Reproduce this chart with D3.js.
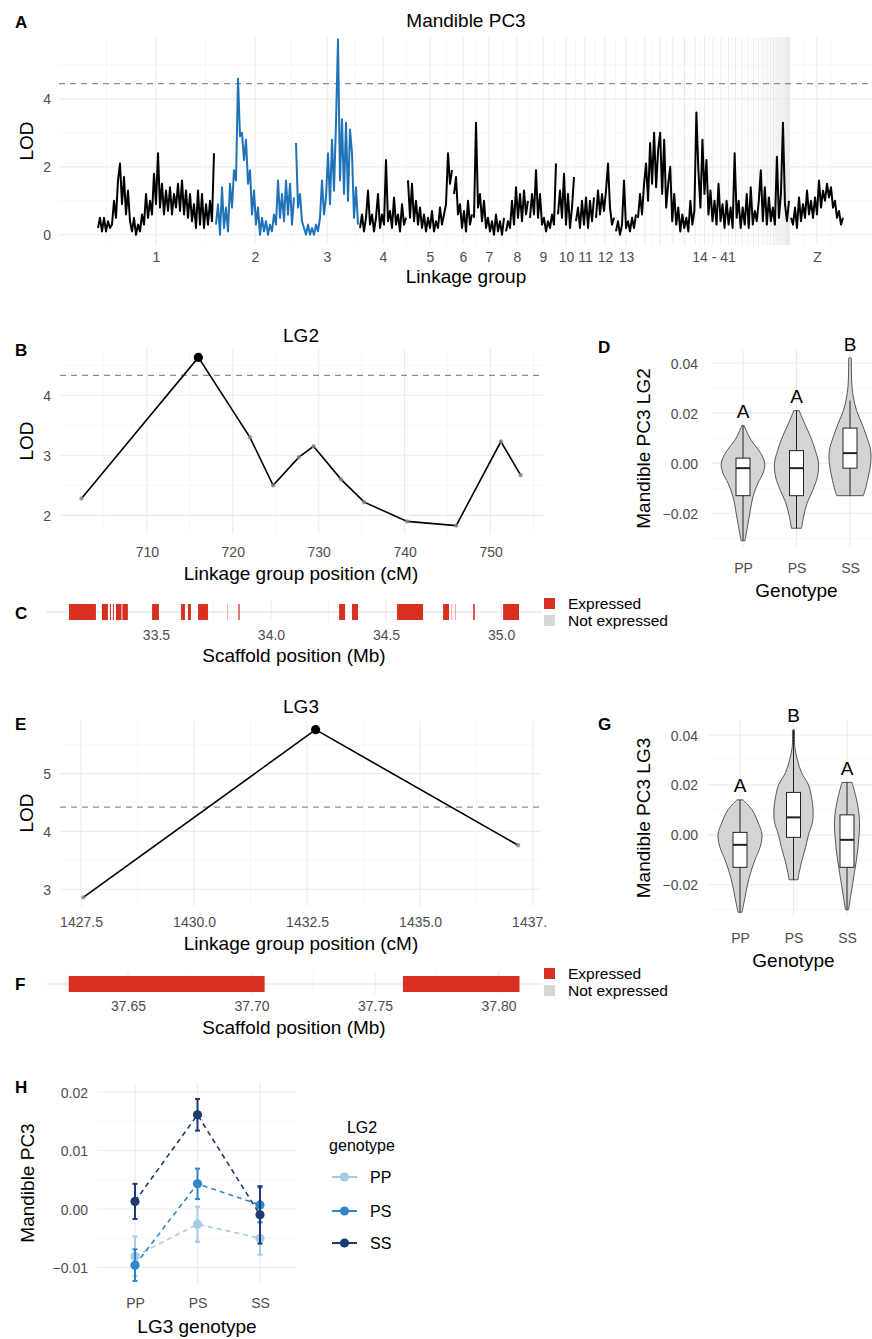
<!DOCTYPE html>
<html>
<head>
<meta charset="utf-8">
<script src="https://cdn.jsdelivr.net/npm/d3@7"></script>
<style>
body { margin: 0; background: #fff; }
svg { font-family: "Liberation Sans", Arial, Helvetica, sans-serif; }
</style>
</head>
<body>
<div id="fig"></div>
<script>
// ---------------- data ----------------
// panel A: linkage groups (lengths in map units) and genome scan LOD values
var chromNames = ["1","2","3","4","5","6","7","8","9","10","11","12","13",
  "14","15","16","17","18","19","20","21","22","23","24","25","26","27","28","29","30",
  "31","32","33","34","35","36","37","38","39","40","41","Z"];
var chromLen = [118,80,64,48,46,20,32,24,28,18,20,20,22,
  16,14,12,11,10,9,8,8,7,7,6,6,5,5,4,4,3,3,2,2,2,2,1.5,1.5,1,1,1,1,54];
var blueChroms = ["2","3"];
var lodLG1 = [0.2,0.5,0.1,0.5,0.1,0.4,0.2, 0.3,1.0,0.5,1.6, 2.1, 0.9,1.7,0.6,1.3,0.4,
  0.1,0.5,0.0,0.3,0.1, 0.6,0.3,1.2,0.5,1.0, 0.6,1.8,0.9,2.4,0.8,
  1.5,0.6,1.3,0.7,1.4,0.6,1.2,0.8,1.5,0.7, 1.6,0.6,1.3,0.5,1.2,0.4,0.9,
  0.2,1.3,0.3,1.2,0.2,0.9,0.3,1.0,0.4,2.4];
var lodLG2 = [0.3,0.9,0.0,1.4,0.2,0.8,0.1,1.5, 0.8,1.9,1.6, 4.6, 2.9,3.0,2.2, 2.8,1.5,1.9,
  0.6,1.3,0.3,0.8, 0.0,0.5,0.1,0.4,0.0,0.3,0.1,0.6, 0.3,1.6,0.5,1.2,0.4,1.6,0.6,1.5,0.3,1.1];
var lodLG3 = [2.7, 0.8,1.2,0.4, 0.2,0.0,0.3,0.0,0.2,0.0,0.3,0.1,0.5,
  1.6,0.6,1.1,2.4,0.9,2.8,1.3,3.3, 5.75, 1.6,3.4,1.2,3.3,1.0,3.1, 2.4,0.5,1.4,0.3];
var lodLG4 = [0.2,0.6,0.1,0.5,1.3,0.3,0.6,0.1,0.5,1.2,0.2,0.6,0.3,2.2,0.4,0.7,0.2,1.1,0.3,0.6,0.1,0.9,0.3,0.5];
var lodLG5 = [1.6,0.5,1.5,0.4,1.0,0.3,0.8,0.2,0.6,0.1,0.5,0.2,0.7,0.1,0.4,0.2,0.8,0.3,0.6,0.9,2.4,1.5,1.9];
var lodLG6 = [1.2,1.7,0.6,0.9,0.2,0.7,0.1,1.0,0.3,0.6];
var lodLG7 = [0.5,3.3,0.8,1.2,0.4,1.0,0.2,0.5,0.1,0.4,0.0,0.6,0.1,0.4,0.0,0.5];
var lodLG8 = [0.1,0.4,0.2,1.0,0.3,1.4,0.5,1.2,0.4,1.3,0.6,1.0];
var lodLG9 = [0.5,1.2,0.6,1.9,0.5,1.2,0.3,0.5,0.1,0.4,0.2,0.6,0.3,2.1];
var lodLG10 = [0.6,1.3,0.5,1.8,0.3,1.2,0.2,0.8,1.7];
var lodLG11 = [0.4,0.8,0.2,1.0,0.3,1.1,0.2,1.0,0.4,1.1];
var lodLG12 = [0.5,1.3,0.6,1.2,0.7,1.3,2.1,0.8,0.3,0.5];
var lodLG13 = [0.1,0.4,0.0,0.3,1.6,0.2,0.4,0.1,0.5,0.2,0.6];
var lodSmall = [0.5,1.2,0.6,1.5, 2.1, 1.0,2.7, 1.5,3.0,1.4,2.5,3.0,1.2,2.8,
  0.8,1.5,2.0,0.4,1.2,0.3,0.8, 0.1,0.6,0.2,0.5,0.1,1.0,0.3,0.7, 3.6,
  1.9,0.8,2.8,1.2,2.2, 0.6,1.3,0.4,1.0,0.3,1.5,0.4,0.9,0.2,1.0,0.3,0.8,0.2, 2.4,
  0.5,1.0,0.2,0.8,0.3,1.2,0.2,1.4,0.3,0.7,0.4,1.0, 1.9,
  0.4,1.4,0.3,1.1,0.4,0.8,0.3,2.3,0.5,1.2,3.3,0.9,0.4,1.0];
var lodZ = [0.5,0.3,0.8,0.2,1.1,0.4,0.9, 0.5,1.3,0.6,1.0,0.5,1.1,0.6,
  1.6,0.8,1.3,1.0,1.5,1.1,1.4, 0.8,1.0,0.5,0.7,0.3,0.5];
var thrA = 4.45;

// panel B: LG2 fine map
var posLG2 = [702.4,716.0,722.0,724.7,727.7,729.4,732.6,735.3,740.3,746.0,751.2,753.5];
var lodFineLG2 = [2.28,4.63,3.30,2.50,2.97,3.15,2.60,2.22,1.90,1.83,3.23,2.67];
var thrB = 4.33;
// panel C: genes on scaffold (Mb), opacity of each
var geneStartC = [33.122,33.265,33.300,33.313,33.326,33.354,33.483,33.609,33.639,33.683,33.809,33.857,34.296,34.352,34.548,34.748,34.783,34.800,34.878,35.009];
var geneEndC   = [33.239,33.291,33.304,33.317,33.350,33.378,33.513,33.626,33.652,33.726,33.811,33.865,34.322,34.378,34.661,34.774,34.787,34.804,34.887,35.078];
var geneAlphaC = [1,1,1,1,1,1,1,1,1,1,0.35,0.7,1,1,1,1,0.4,0.4,0.8,1];
// panel E: LG3 fine map
var posLG3 = [1427.55,1432.69,1437.17];
var lodFineLG3 = [2.86,5.76,3.76];
var thrE = 4.42;
// panel F
var geneStartF = [37.626,37.7613];
var geneEndF = [37.7053,37.8085];

// panels D and G: violins [value, relative density], boxes [lo, q1, median, q3, hi]
var genos = ["PP","PS","SS"];
var violinD_PP = [[0.015,0.05],[0.013,0.15],[0.009,0.38],[0.005,0.73],[0.0,0.99],[-0.004,0.91],[-0.008,0.68],[-0.0135,0.45],[-0.019,0.33],[-0.024,0.23],[-0.0295,0.12],[-0.031,0.09]];
var violinD_PS = [[0.021,0.12],[0.016,0.36],[0.0105,0.64],[0.005,0.86],[0.0,1.0],[-0.0055,0.95],[-0.011,0.73],[-0.016,0.48],[-0.0215,0.32],[-0.026,0.23]];
var violinD_SS = [[0.042,0.06],[0.032,0.08],[0.0265,0.15],[0.021,0.30],[0.016,0.53],[0.0105,0.76],[0.005,0.94],[0.0,0.94],[-0.0055,0.83],[-0.011,0.68],[-0.013,0.6]];
var boxD_PP = [-0.031,-0.013,-0.002,0.002,0.015];
var boxD_PS = [-0.026,-0.013,-0.002,0.005,0.021];
var boxD_SS = [-0.013,-0.002,0.004,0.014,0.025];
var lettersD = ["A","A","B"];
var violinG_PP = [[0.014,0.14],[0.01,0.55],[0.005,0.82],[0.0,1.0],[-0.005,0.91],[-0.01,0.68],[-0.015,0.49],[-0.02,0.34],[-0.025,0.23],[-0.031,0.09]];
var violinG_PS = [[0.042,0.05],[0.035,0.06],[0.03,0.18],[0.025,0.36],[0.02,0.68],[0.015,0.82],[0.01,0.89],[0.005,0.86],[0.0,0.68],[-0.005,0.55],[-0.01,0.39],[-0.015,0.26],[-0.018,0.2]];
var violinG_SS = [[0.021,0.23],[0.015,0.41],[0.01,0.52],[0.005,0.57],[0.0,0.55],[-0.005,0.5],[-0.01,0.43],[-0.015,0.34],[-0.02,0.25],[-0.025,0.16],[-0.03,0.07]];
var boxG_PP = [-0.031,-0.013,-0.004,0.001,0.014];
var boxG_PS = [-0.018,-0.001,0.007,0.017,0.042];
var boxG_SS = [-0.030,-0.013,-0.002,0.008,0.021];
var lettersG = ["A","B","A"];

// panel H: means and standard errors by LG3 genotype for each LG2 genotype
var hMeanPP = [-0.0081,-0.0026,-0.0050];
var hSePP   = [0.0034,0.0030,0.0028];
var hMeanPS = [-0.0096,0.0043,0.0007];
var hSePS   = [0.0027,0.0026,0.0030];
var hMeanSS = [0.0013,0.0161,-0.0010];
var hSeSS   = [0.0030,0.0027,0.0049];

// ---------------- drawing ----------------
var W = 872, H = 1339;
var svg = d3.select("#fig").append("svg").attr("width", W).attr("height", H);
var red = "#d7301f", grey = "#d6d6d6", gridCol = "#ebebeb", gridMin = "#f3f3f3";
var intFmt = d3.format("d");

function minorBreaks(b){
  var m = [b[0] - (b[1]-b[0])/2];
  for (var i = 0; i < b.length-1; i++) m.push((b[i]+b[i+1])/2);
  m.push(b[b.length-1] + (b[b.length-1]-b[b.length-2])/2);
  return m;
}
function hGrid(g, y, vals, x0, x1, col, w){
  g.selectAll(null).data(vals).enter().append("line")
    .attr("x1", x0).attr("x2", x1).attr("y1", d => y(d)).attr("y2", d => y(d))
    .attr("stroke", col).attr("stroke-width", w);
}
function vGrid(g, x, vals, y0, y1, col, w){
  g.selectAll(null).data(vals).enter().append("line")
    .attr("y1", y0).attr("y2", y1).attr("x1", d => x(d)).attr("x2", d => x(d))
    .attr("stroke", col).attr("stroke-width", w);
}
function styleAxis(g){
  g.attr("font-size", 14).attr("font-family", null);
  g.select(".domain").remove();
  g.selectAll("line").remove();
  g.selectAll("text").attr("fill", "#4d4d4d");
}
function bottomAxis(g, x, yBase, vals, fmt){
  var ax = d3.axisBottom(x).tickValues(vals).tickSize(0);
  if (fmt) ax.tickFormat(fmt);
  var a = g.append("g").attr("transform", "translate(0," + yBase + ")").call(ax);
  styleAxis(a);
  a.selectAll("text").attr("y", 0).attr("dy", 0);
  return a;
}
function leftAxis(g, y, xRight, vals, fmt){
  var ax = d3.axisLeft(y).tickValues(vals).tickSize(0);
  if (fmt) ax.tickFormat(fmt);
  var a = g.append("g").attr("transform", "translate(" + xRight + ",0)").call(ax);
  styleAxis(a);
  a.selectAll("text").attr("x", 0).attr("dy", "0.36em");
  return a;
}
function label(g, x, y, s, size, opt){
  opt = opt || {};
  var t = g.append("text").attr("x", x).attr("y", y).text(s)
    .attr("font-size", size).attr("fill", opt.fill || "#000")
    .attr("text-anchor", opt.anchor || "middle");
  if (opt.bold) t.attr("font-weight", "bold");
  return t;
}
function vLabel(g, x, y, s, size){
  g.append("text").attr("transform", "translate(" + x + "," + y + ") rotate(-90)")
    .attr("text-anchor", "middle").attr("font-size", size).text(s);
}

// ===== Panel A: genome scan =====
var gA = svg.append("g");
var chromStart = [], acc = 0;
chromLen.forEach(function(l){ chromStart.push(acc); acc += l; });
var chromMid = chromLen.map(function(l, i){ return chromStart[i] + l/2; });
var xA = d3.scaleLinear().domain([-38, 775]).range([59, 872]);
var yA = d3.scaleLinear().domain([-0.3, 5.82]).range([245, 37]);

hGrid(gA, yA, [1,3,5], 59, 872, gridMin, 0.7);
vGrid(gA, xA, minorBreaks(chromMid), 37, 245, gridMin, 0.7);
hGrid(gA, yA, [0,2,4], 59, 872, gridCol, 1.1);
vGrid(gA, xA, chromMid, 37, 245, gridCol, 1.1);

gA.append("line").attr("x1", 59).attr("x2", 872).attr("y1", yA(thrA)).attr("y2", yA(thrA))
  .attr("stroke", "#8c8c8c").attr("stroke-width", 1.2).attr("stroke-dasharray", "6,5");

var lodSegments = [
  ["1","1",lodLG1],["2","2",lodLG2],["3","3",lodLG3],["4","4",lodLG4],["5","5",lodLG5],
  ["6","6",lodLG6],["7","7",lodLG7],["8","8",lodLG8],["9","9",lodLG9],["10","10",lodLG10],
  ["11","11",lodLG11],["12","12",lodLG12],["13","13",lodLG13],["14","41",lodSmall],["Z","Z",lodZ]
];
var lineA = d3.line().x(d => xA(d.pos)).y(d => yA(d.lod));
lodSegments.forEach(function(s){
  var i0 = chromNames.indexOf(s[0]), i1 = chromNames.indexOf(s[1]);
  var st = chromStart[i0], en = chromStart[i1] + chromLen[i1];
  var step = (en - st) / s[2].length;
  var pts = s[2].map(function(v, i){ return {pos: st + (i + 0.5) * step, lod: v}; });
  gA.append("path").datum(pts).attr("d", lineA).attr("fill", "none")
    .attr("stroke", blueChroms.indexOf(s[0]) >= 0 ? "#1f72b8" : "#000")
    .attr("stroke-width", 2).attr("stroke-linejoin", "round");
});

var labTicks = chromMid.slice(0, 13).concat([
  (chromStart[13] + chromStart[40] + chromLen[40]) / 2, chromMid[41]]);
var labText = chromNames.slice(0, 13).concat(["14 - 41", "Z"]);
bottomAxis(gA, xA, 262, labTicks, function(d, i){ return labText[i]; });
leftAxis(gA, yA, 51, [0,2,4], intFmt);
label(gA, 466, 27, "Mandible PC3", 19);
label(gA, 466, 283, "Linkage group", 19);
vLabel(gA, 33, 141, "LOD", 19);
label(gA, 15, 28, "A", 17, {bold: true, anchor: "start"});

// ===== fine-map panels (B, E) =====
function fineMap(g, x, y, pos, lod, thr, xt, xtMin, yt, ytMin, box, fmt, tickY, axisParent){
  hGrid(g, y, ytMin, box[0], box[1], gridMin, 0.7);
  vGrid(g, x, xtMin, box[2], box[3], gridMin, 0.7);
  hGrid(g, y, yt, box[0], box[1], gridCol, 1.1);
  vGrid(g, x, xt, box[2], box[3], gridCol, 1.1);
  g.append("line").attr("x1", box[0]).attr("x2", box[1]).attr("y1", y(thr)).attr("y2", y(thr))
    .attr("stroke", "#8c8c8c").attr("stroke-width", 1.2).attr("stroke-dasharray", "6,5");
  var pts = pos.map(function(p, i){ return [p, lod[i]]; });
  g.append("path").datum(pts)
    .attr("d", d3.line().x(d => x(d[0])).y(d => y(d[1])))
    .attr("fill", "none").attr("stroke", "#000").attr("stroke-width", 1.6);
  var mx = d3.max(lod);
  g.selectAll(null).data(pts.filter(d => d[1] < mx)).enter().append("circle")
    .attr("cx", d => x(d[0])).attr("cy", d => y(d[1])).attr("r", 2.2)
    .attr("fill", "#8a8a8a").attr("fill-opacity", 0.8);
  g.selectAll(null).data(pts.filter(d => d[1] === mx)).enter().append("circle")
    .attr("cx", d => x(d[0])).attr("cy", d => y(d[1])).attr("r", 4.6).attr("fill", "#000");
  leftAxis(g, y, 51, yt, intFmt);
  return bottomAxis(axisParent || g, x, tickY, xt, fmt);
}

var gB = svg.append("g");
var xB = d3.scaleLinear().domain([699.9, 756.1]).range([60, 543]);
var yB = d3.scaleLinear().domain([1.69, 4.77]).range([534, 349]);
fineMap(gB, xB, yB, posLG2, lodFineLG2, thrB, [710,720,730,740,750], [705,715,725,735,745,755],
  [2,3,4], [2.5,3.5,4.5], [60,543,349,534], null, 557);
label(gB, 301, 342, "LG2", 19);
label(gB, 301, 580, "Linkage group position (cM)", 19);
vLabel(gB, 33, 441, "LOD", 19);
label(gB, 15, 356, "B", 17, {bold: true, anchor: "start"});

var gE = svg.append("g");
var xE = d3.scaleLinear().domain([1427.035, 1437.677]).range([60, 541]);
var yE = d3.scaleLinear().domain([2.71, 5.91]).range([906, 721]);
svg.append("defs").append("clipPath").attr("id", "clipE").append("rect")
  .attr("x", 0).attr("y", 900).attr("width", 547).attr("height", 40);
// the last tick label is cut at the panel edge, as in the original
var gEclip = gE.append("g").attr("clip-path", "url(#clipE)");
fineMap(gE, xE, yE, posLG3, lodFineLG3, thrE, [1427.5,1430,1432.5,1435,1437.5],
  [1428.75,1431.25,1433.75,1436.25], [3,4,5], [3.5,4.5,5.5], [60,541,721,906], d3.format(".1f"), 927, gEclip);
label(gE, 301, 713, "LG3", 19);
label(gE, 301, 950, "Linkage group position (cM)", 19);
vLabel(gE, 33, 813, "LOD", 19);
label(gE, 15, 730, "E", 17, {bold: true, anchor: "start"});

// ===== gene tracks (C, F) =====
function geneTrack(g, x, starts, ends, alphas, cy, xt, xtMin, fmt, tickY, titleY, legY){
  vGrid(g, x, xtMin, cy - 12, cy + 10, gridMin, 0.8);
  vGrid(g, x, xt, cy - 12, cy + 10, gridCol, 1.1);
  g.append("line").attr("x1", 46).attr("x2", 542).attr("y1", cy).attr("y2", cy)
    .attr("stroke", "#e0e0e0").attr("stroke-width", 1.2);
  g.selectAll(null).data(starts).enter().append("rect")
    .attr("x", d => x(d)).attr("y", cy - 8)
    .attr("width", (d, i) => Math.max(1, x(ends[i]) - x(d))).attr("height", 16)
    .attr("fill", red).attr("fill-opacity", (d, i) => alphas ? alphas[i] : 1);
  bottomAxis(g, x, tickY, xt, fmt);
  label(g, 294, titleY, "Scaffold position (Mb)", 19);
  g.append("rect").attr("x", 544).attr("y", legY - 11).attr("width", 11).attr("height", 11).attr("fill", red);
  g.append("rect").attr("x", 544).attr("y", legY + 6).attr("width", 11).attr("height", 11).attr("fill", grey);
  label(g, 568, legY, "Expressed", 15.5, {anchor: "start"});
  label(g, 568, legY + 17, "Not expressed", 15.5, {anchor: "start"});
}
var gC = svg.append("g");
var xC = d3.scaleLinear().domain([33.022, 35.178]).range([46, 542]);
geneTrack(gC, xC, geneStartC, geneEndC, geneAlphaC, 612, [33.5,34,34.5,35], [33.25,33.75,34.25,34.75],
  d3.format(".1f"), 640, 662, 609);
label(gC, 15, 619, "C", 17, {bold: true, anchor: "start"});

var gF = svg.append("g");
var xF = d3.scaleLinear().domain([37.6168, 37.8172]).range([46, 541]);
geneTrack(gF, xF, geneStartF, geneEndF, null, 984, [37.65,37.70,37.75,37.80], [37.625,37.675,37.725,37.775],
  d3.format(".2f"), 1011, 1034, 979);
label(gF, 15, 990, "F", 17, {bold: true, anchor: "start"});

// ===== violin panels (D, G) =====
function violinPanel(g, x, y, violins, boxes, letters, top, bot, yTitle, tag, tagY, tickY, titleY){
  var step = x.step();
  var x0 = x(genos[0]) - step * 0.6, x1 = x(genos[2]) + step * 0.6;
  hGrid(g, y, [-0.03,-0.01,0.01,0.03], x0, x1, gridMin, 0.7);
  hGrid(g, y, [-0.02,0,0.02,0.04], x0, x1, gridCol, 1.1);
  vGrid(g, x, genos, top, bot, gridCol, 1.1);
  var wScale = d3.scaleLinear().domain([0, 1]).range([0, 22]);
  genos.forEach(function(k, i){
    var cx = x(k);
    var area = d3.area().curve(d3.curveCatmullRom)
      .y(d => y(d[0])).x0(d => cx - wScale(d[1])).x1(d => cx + wScale(d[1]));
    g.append("path").datum(violins[i]).attr("d", area)
      .attr("fill", "#d4d4d4").attr("stroke", "#555").attr("stroke-width", 1);
    var b = boxes[i];
    g.append("line").attr("x1", cx).attr("x2", cx).attr("y1", y(b[0])).attr("y2", y(b[4]))
      .attr("stroke", "#222").attr("stroke-width", 1);
    g.append("rect").attr("x", cx - 7).attr("width", 14).attr("y", y(b[3])).attr("height", y(b[1]) - y(b[3]))
      .attr("fill", "#fff").attr("stroke", "#222").attr("stroke-width", 1);
    g.append("line").attr("x1", cx - 7).attr("x2", cx + 7).attr("y1", y(b[2])).attr("y2", y(b[2]))
      .attr("stroke", "#222").attr("stroke-width", 2);
    var vmax = d3.max(violins[i], d => d[0]);
    label(g, cx, y(vmax + 0.003), letters[i], 19);
  });
  leftAxis(g, y, 698, [-0.02,0,0.02,0.04], d3.format(".2f"));
  bottomAxis(g, x, tickY, genos);
  label(g, (x0 + x1) / 2, titleY, "Genotype", 19);
  vLabel(g, 650, (top + bot) / 2, yTitle, 19);
  label(g, 598, tagY, tag, 17, {bold: true, anchor: "start"});
}
var gD = svg.append("g");
var xD = d3.scalePoint().domain(genos).range([743, 850]);
var yD = d3.scaleLinear().domain([-0.0335, 0.0452]).range([547, 350]);
violinPanel(gD, xD, yD, [violinD_PP, violinD_PS, violinD_SS], [boxD_PP, boxD_PS, boxD_SS], lettersD,
  350, 547, "Mandible PC3 LG2", "D", 353, 573, 597);

var gG = svg.append("g");
var xG = d3.scalePoint().domain(genos).range([740, 847]);
var yG = d3.scaleLinear().domain([-0.0325, 0.046]).range([916, 720]);
violinPanel(gG, xG, yG, [violinG_PP, violinG_PS, violinG_SS], [boxG_PP, boxG_PS, boxG_SS], lettersG,
  720, 916, "Mandible PC3 LG3", "G", 730, 943, 967);

// ===== Panel H: interaction plot =====
var gH = svg.append("g");
var xH = d3.scalePoint().domain(genos).range([135, 260]);
var yH = d3.scaleLinear().domain([-0.01265, 0.02154]).range([1283, 1083]);
hGrid(gH, yH, [-0.005, 0.005, 0.015], 97.5, 297.5, gridMin, 0.7);
hGrid(gH, yH, [-0.01, 0, 0.01, 0.02], 97.5, 297.5, gridCol, 1.1);
vGrid(gH, xH, genos, 1083, 1283, gridCol, 1.1);
var hColors = ["#a3cbe5", "#2f86c8", "#1b3a70"];
var hMeans = [hMeanPP, hMeanPS, hMeanSS], hSes = [hSePP, hSePS, hSeSS];
hMeans.forEach(function(m, gi){
  var pts = genos.map(function(k, i){ return [k, m[i], hSes[gi][i]]; });
  gH.append("path").datum(pts)
    .attr("d", d3.line().x(d => xH(d[0])).y(d => yH(d[1])))
    .attr("fill", "none").attr("stroke", hColors[gi]).attr("stroke-width", 1.6)
    .attr("stroke-dasharray", "5,4");
  var eb = gH.selectAll(null).data(pts).enter().append("g");
  eb.append("line").attr("x1", d => xH(d[0])).attr("x2", d => xH(d[0]))
    .attr("y1", d => yH(d[1] - d[2])).attr("y2", d => yH(d[1] + d[2]))
    .attr("stroke", hColors[gi]).attr("stroke-width", 2);
  [-1, 1].forEach(function(sg){
    eb.append("line").attr("x1", d => xH(d[0]) - 2.5).attr("x2", d => xH(d[0]) + 2.5)
      .attr("y1", d => yH(d[1] + sg * d[2])).attr("y2", d => yH(d[1] + sg * d[2]))
      .attr("stroke", hColors[gi]).attr("stroke-width", 2);
  });
  eb.append("circle").attr("cx", d => xH(d[0])).attr("cy", d => yH(d[1])).attr("r", 4.6)
    .attr("fill", hColors[gi]);
});
leftAxis(gH, yH, 88, [-0.01, 0, 0.01, 0.02], d3.format(".2f"));
bottomAxis(gH, xH, 1308, genos);
label(gH, 197, 1333, "LG3 genotype", 19);
vLabel(gH, 34, 1183, "Mandible PC3", 19);
label(gH, 15, 1093, "H", 17, {bold: true, anchor: "start"});
// legend
label(gH, 362, 1133, "LG2", 16);
label(gH, 362, 1151, "genotype", 16);
var legY = [1177, 1211, 1243];
genos.forEach(function(k, i){
  gH.append("line").attr("x1", 332).attr("x2", 357).attr("y1", legY[i]).attr("y2", legY[i])
    .attr("stroke", hColors[i]).attr("stroke-width", 2);
  gH.append("circle").attr("cx", 344.5).attr("cy", legY[i]).attr("r", 4.6).attr("fill", hColors[i]);
  label(gH, 370, legY[i] + 6, k, 16, {anchor: "start"});
});
</script>
</body>
</html>
